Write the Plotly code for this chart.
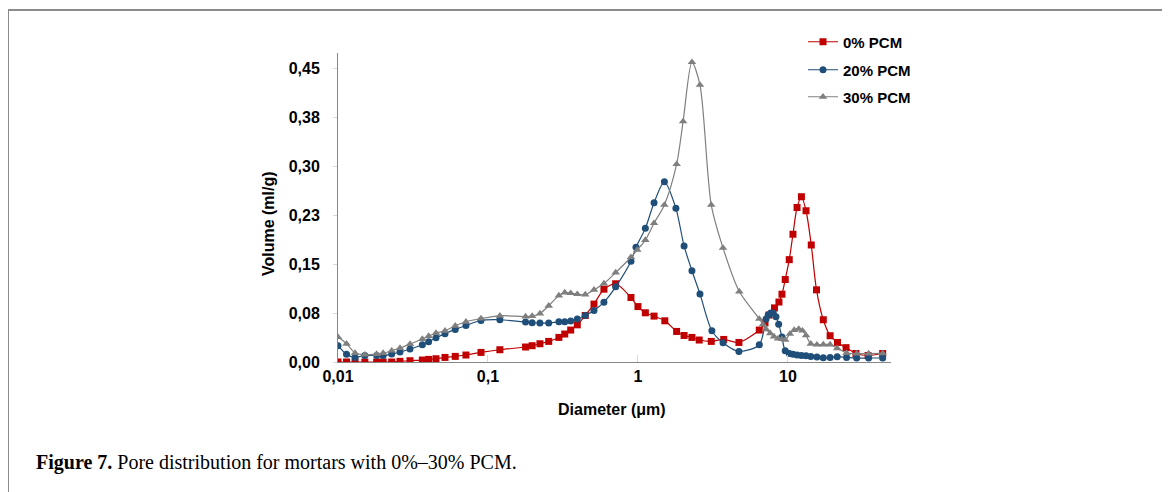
import plotly.graph_objects as go

# ---- data ----
diam_common = [0.0100, 0.0114, 0.0130, 0.0151, 0.0181, 0.0200, 0.0228, 0.0259, 0.0302, 0.0365,
               0.0402, 0.0450, 0.0517, 0.0605, 0.0713, 0.0898, 0.120, 0.178, 0.197, 0.222,
               0.254, 0.297, 0.325, 0.356, 0.394, 0.445, 0.509, 0.593, 0.710, 0.898]

diam_0 = diam_common + [1.00, 1.12, 1.28, 1.51, 1.81, 2.03, 2.29, 2.56, 3.08, 3.73, 4.71,
                        6.44, 7.03, 7.47, 8.13, 8.71, 9.12, 9.59, 10.2, 10.8, 11.5, 12.3,
                        13.2, 14.3, 15.5, 17.2, 19.1, 21.4, 24.4, 28.4, 34.2, 42.8]
vol_0 = [0, 0, 0, 0, 0, 0, 0, 0.001, 0.002, 0.003,
         0.004, 0.005, 0.007, 0.0086, 0.0107, 0.0147, 0.0188, 0.023, 0.025, 0.028,
         0.0316, 0.0377, 0.0429, 0.049, 0.057, 0.0714, 0.0888, 0.1117, 0.120, 0.0989,
         0.085, 0.0755, 0.0704, 0.0632, 0.0469, 0.0407, 0.0377, 0.0337, 0.0316, 0.0346, 0.030,
         0.049, 0.060, 0.072, 0.083, 0.092, 0.104, 0.1265, 0.157, 0.196, 0.237, 0.2535,
         0.232, 0.1795, 0.1107, 0.0648, 0.0403, 0.030, 0.022, 0.013, 0.010, 0.013]

diam_20 = diam_common + [0.970, 1.12, 1.28, 1.50, 1.79, 2.03, 2.29, 2.59, 3.11, 3.69, 4.71,
                         6.44, 7.14, 7.39, 7.67, 7.98, 8.32, 8.67, 9.12, 9.59, 10.2, 10.8,
                         11.5, 12.3, 13.2, 14.2, 15.6, 17.2, 19.1, 21.3, 24.6, 28.7, 34.5, 42.8]
vol_20 = [0.025, 0.0117, 0.007, 0.0101, 0.0101, 0.0101, 0.0122, 0.0153, 0.0199, 0.0265,
          0.0311, 0.0372, 0.0433, 0.050, 0.056, 0.0637, 0.0648, 0.0612, 0.0602, 0.0597,
          0.0597, 0.0617, 0.0617, 0.0628, 0.0658, 0.0714, 0.079, 0.0918, 0.1153, 0.1546,
          0.176, 0.205, 0.2443, 0.2764, 0.2357, 0.178, 0.140, 0.1045, 0.0479, 0.0295, 0.0162,
          0.0265, 0.0658, 0.072, 0.075, 0.075, 0.0695, 0.058, 0.0383, 0.0173, 0.0132, 0.0117,
          0.0107, 0.0101, 0.0097, 0.0086, 0.0077, 0.0066, 0.007, 0.0081, 0.007, 0.0061, 0.0061, 0.0061]

diam_30 = diam_common + [0.989, 1.12, 1.28, 1.50, 1.81, 2.00, 2.29, 2.59, 3.08, 3.69, 4.74,
                         6.44, 6.81, 7.17, 7.62, 8.07, 8.58, 9.12, 9.59, 10.3, 11.0, 11.8,
                         12.5, 13.2, 14.2, 15.6, 17.2, 19.1, 21.3, 24.6, 28.7, 34.5, 42.8]
vol_30 = [0.0383, 0.028, 0.0138, 0.0112, 0.0122, 0.0138, 0.0173, 0.0214, 0.0276, 0.0352,
          0.0398, 0.0444, 0.0479, 0.0556, 0.0617, 0.0667, 0.0709, 0.0698, 0.0704, 0.0744,
          0.0862, 0.102, 0.1065, 0.1056, 0.1041, 0.1035, 0.1107, 0.1203, 0.1372, 0.1607,
          0.172, 0.187, 0.213, 0.241, 0.3035, 0.369, 0.460, 0.425, 0.241, 0.175, 0.108,
          0.066, 0.0576, 0.050, 0.044, 0.039, 0.0357, 0.035, 0.034, 0.043, 0.049, 0.0507,
          0.048, 0.0408, 0.028, 0.0265, 0.0268, 0.0268, 0.021, 0.0138, 0.013, 0.013, 0.0133]

series_names = ["0% PCM", "20% PCM", "30% PCM"]
x_tickvals = [0.01, 0.1, 1, 10]
x_ticktext = ["0,01", "0,1", "1", "10"]
y_tickvals = [0, 0.075, 0.15, 0.225, 0.30, 0.375, 0.45]
y_ticktext = ["0,00", "0,08", "0,15", "0,23", "0,30", "0,38", "0,45"]

# ---- styling ----
colors = ["#C00000", "#1F4E79", "#7F7F7F"]
symbols = ["square", "circle", "triangle-up"]
sizes = [7, 7, 7.5]
legends = ["legend", "legend2", "legend3"]
FONT = "Liberation Sans Narrow, Arial Narrow, Liberation Sans, Arial, sans-serif"

fig = go.Figure()
for name, xs, ys, c, s, sz, lg in zip(series_names, [diam_0, diam_20, diam_30],
                                      [vol_0, vol_20, vol_30], colors, symbols, sizes, legends):
    fig.add_trace(go.Scatter(
        x=xs, y=ys, name=name, mode="lines+markers",
        line=dict(color=c, width=1.2, shape="spline", smoothing=0.8),
        marker=dict(symbol=s, size=sz, color=c, line=dict(width=0)),
        legend=lg,
    ))

# The page body has an 8px margin, so the figure starts at (8, 8) in the window.
OFF = 8
W, H = 1170 - OFF, 492 - OFF
L, R, T, B = 338 - OFF, 891 - OFF, 53 - OFF, 362 - OFF
def px(x):
    return (x - OFF - L) / (R - L)
def py(y):
    return (B - (y - OFF)) / (B - T)

legend_common = dict(xanchor="left", yanchor="middle", bgcolor="rgba(0,0,0,0)",
                     font=dict(family=FONT, size=15, color="#000000", weight="bold"),
                     itemwidth=30)
lx = px(803)

fig.update_layout(
    width=W, height=H,
    margin=dict(l=L, r=W - R, t=T, b=H - B),
    paper_bgcolor="white", plot_bgcolor="white",
    showlegend=True,
    legend=dict(x=lx, y=py(42), **legend_common),
    legend2=dict(x=lx, y=py(70), **legend_common),
    legend3=dict(x=lx, y=py(97), **legend_common),
    xaxis=dict(
        type="log", range=[-2, 1.687],
        tickvals=x_tickvals, ticktext=x_ticktext,
        showgrid=False, zeroline=False,
        showline=True, linecolor="#868686", linewidth=1,
        ticks="inside", ticklen=7, tickcolor="#D9D9D9", tickwidth=1,
        tickfont=dict(family=FONT, size=16, color="#000000", weight="bold"),
    ),
    yaxis=dict(
        range=[0, 0.474],
        tickvals=y_tickvals, ticktext=y_ticktext,
        showgrid=False, zeroline=False,
        showline=True, linecolor="#868686", linewidth=1,
        ticks="outside", ticklen=4, tickcolor="#D9D9D9", tickwidth=1,
        ticklabelstandoff=10,
        tickfont=dict(family=FONT, size=16, color="#000000", weight="bold"),
    ),
)

# axis titles
fig.add_annotation(text="Volume (ml/g)", xref="paper", yref="paper",
                   x=px(268), y=py(224), textangle=-90, showarrow=False,
                   xanchor="center", yanchor="middle",
                   font=dict(family=FONT, size=16, color="#000000", weight="bold"))
fig.add_annotation(text="Diameter (\u03bcm)", xref="paper", yref="paper",
                   x=px(612), y=py(409), showarrow=False,
                   xanchor="center", yanchor="middle",
                   font=dict(family=FONT, size=16, color="#000000", weight="bold"))

# caption
fig.add_annotation(text="<b>Figure 7.</b> Pore distribution for mortars with 0%\u201330% PCM.",
                   xref="paper", yref="paper", x=px(34), y=py(462), showarrow=False,
                   xanchor="left", yanchor="middle",
                   font=dict(family="Liberation Serif, Times New Roman, serif", size=20, color="#000000"))

# frame around the figure
fig.add_shape(type="path", xref="paper", yref="paper",
              path=f"M {px(8)} {py(520)} L {px(8)} {py(10)} L {px(1163.5)} {py(10)} L {px(1163.5)} {py(520)}",
              line=dict(color="#8C8C8C", width=2), layer="above")

fig.write_html("out.html")
